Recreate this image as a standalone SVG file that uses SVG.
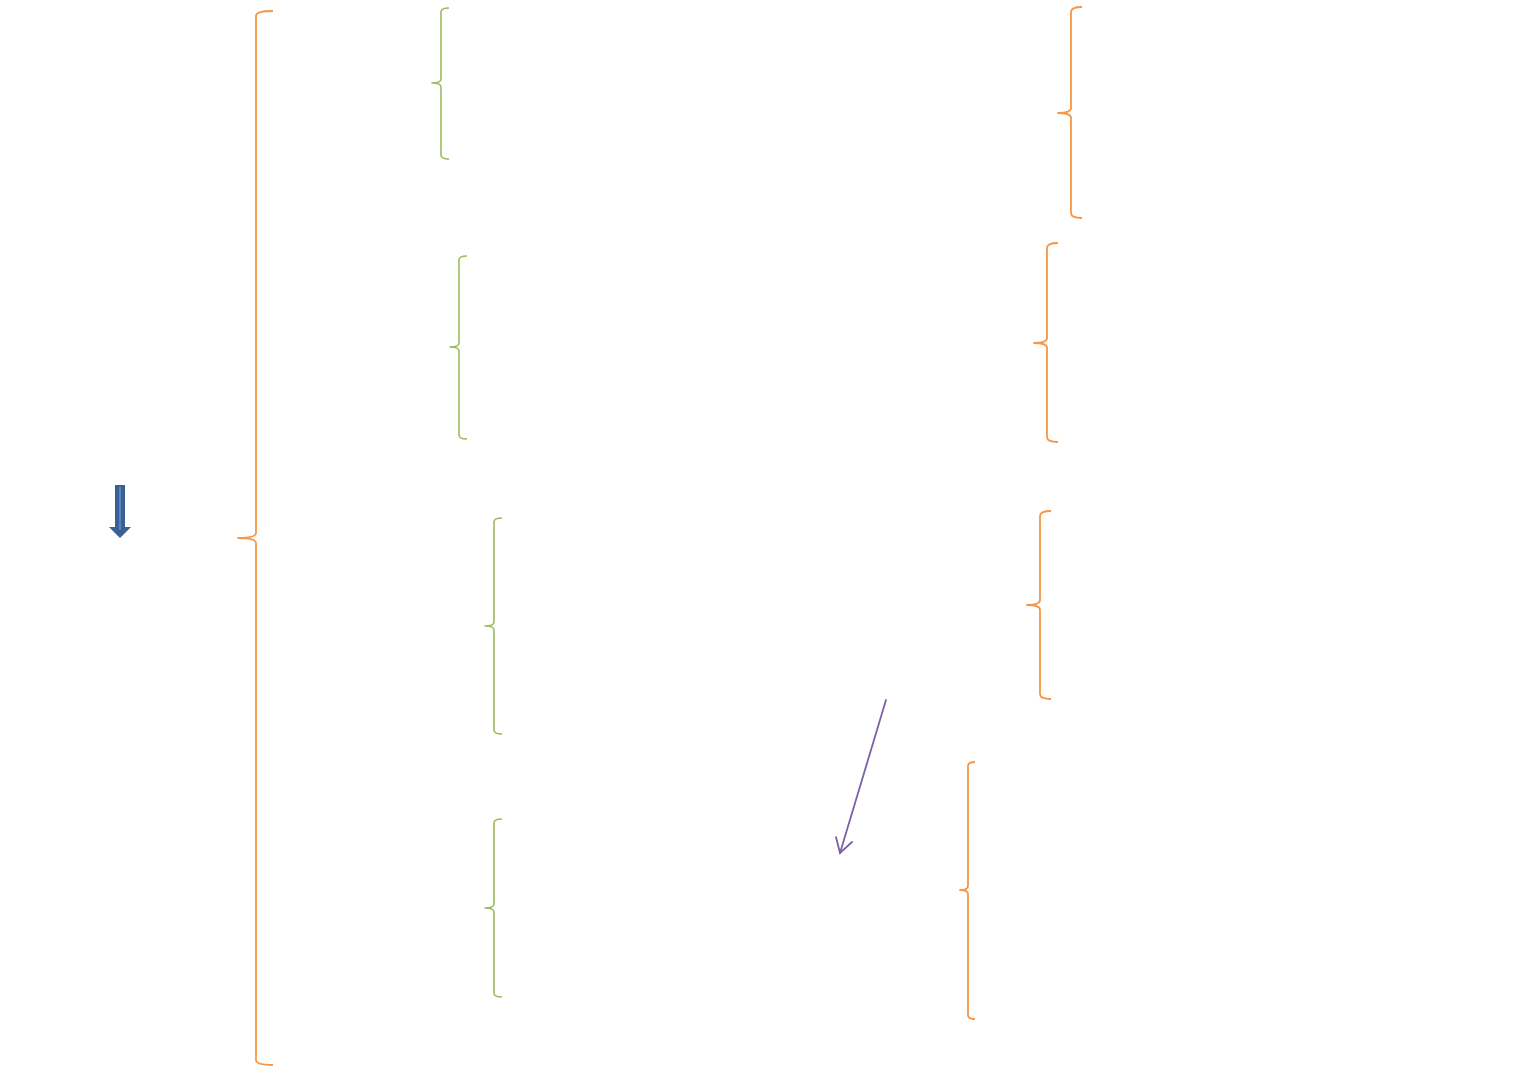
<svg xmlns="http://www.w3.org/2000/svg" width="1518" height="1067" viewBox="0 0 1518 1067">
<style>
.bo{fill:none;stroke:#F79646;stroke-width:1.8;stroke-linejoin:round}
.bg{fill:none;stroke:#9BBB59;stroke-width:1.6;stroke-linejoin:round}
</style>
<rect width="1518" height="1067" fill="#ffffff"/>
<g id="brace-main"><path class="bo" d="M273,11 Q256,11 256,16 L256,533 Q256,538 238,538 Q256,538 256,543 L256,1060 Q256,1065 273,1065"/></g>
<g id="brace-g1"><path class="bg" d="M449,8 Q441,8 441,12 L441,79 Q441,83 432,83 Q441,83 441,87 L441,155 Q441,159 449,159"/></g>
<g id="brace-g2"><path class="bg" d="M467,256 Q459,256 459,260 L459,343 Q459,347 450,347 Q459,347 459,351 L459,435 Q459,439 467,439"/></g>
<g id="brace-g3"><path class="bg" d="M502,518 Q494,518 494,522 L494,622 Q494,626 485,626 Q494,626 494,630 L494,730 Q494,734 502,734"/></g>
<g id="brace-g4"><path class="bg" d="M502,819 Q494,819 494,823 L494,904 Q494,908 485,908 Q494,908 494,912 L494,993 Q494,997 502,997"/></g>
<g id="brace-o1"><path class="bo" d="M1082,7 Q1071,7 1071,12 L1071,108 Q1071,113 1058,113 Q1071,113 1071,118 L1071,213 Q1071,218 1082,218"/></g>
<g id="brace-o2"><path class="bo" d="M1058,243 Q1047,243 1047,248 L1047,338 Q1047,343 1034,343 Q1047,343 1047,348 L1047,437 Q1047,442 1058,442"/></g>
<g id="brace-o3"><path class="bo" d="M1051,511 Q1040,511 1040,516 L1040,600 Q1040,605 1027,605 Q1040,605 1040,610 L1040,694 Q1040,699 1051,699"/></g>
<g id="brace-o4"><path class="bo" d="M975,762 Q968,762 968,766 L968,886 Q968,890 960,890 Q968,890 968,894 L968,1015 Q968,1019 975,1019"/></g>
<g id="connectors">
<g id="down-arrow">
<path d="M115,485 L125,485 L125,527 L131,527 L120,538 L109,527 L115,527 Z" fill="#3A6094"/>
<line x1="120" y1="487" x2="120" y2="530" stroke="#5B86C0" stroke-width="2"/>
</g>
<g id="purple-arrow" fill="none" stroke="#7B61A8" stroke-width="1.8" stroke-linecap="round">
<line x1="886" y1="700" x2="840" y2="853"/>
<polyline points="836,837 840,853 852,842"/>
</g>
</g>
</svg>
